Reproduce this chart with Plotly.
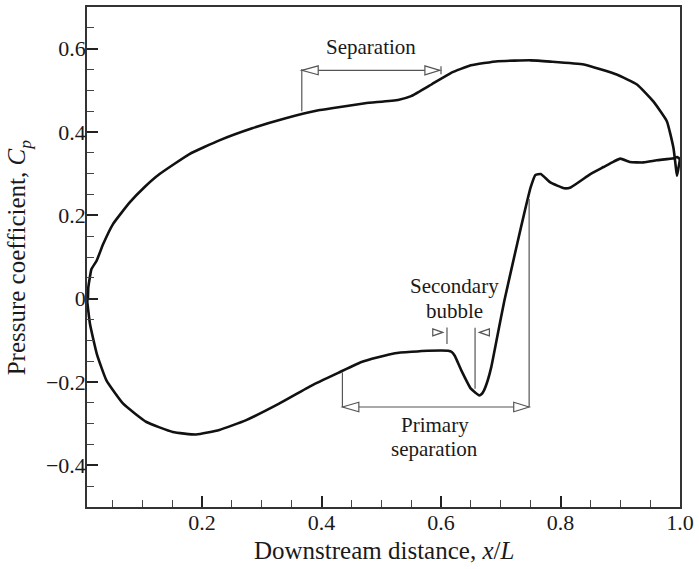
import plotly.graph_objects as go

# ---------------- data ----------------
upper_x = [0.0090, 0.0097, 0.0150, 0.0236, 0.0346, 0.051, 0.079, 0.104, 0.129, 0.179,
           0.229, 0.284, 0.340, 0.395, 0.417, 0.473, 0.528, 0.550, 0.584, 0.617,
           0.650, 0.695, 0.750, 0.783, 0.839, 0.894, 0.928, 0.955, 0.978, 0.989,
           0.9935, 0.995]
upper_y = [0.000, 0.027, 0.071, 0.091, 0.131, 0.179, 0.231, 0.268, 0.299, 0.347,
           0.380, 0.409, 0.433, 0.452, 0.457, 0.469, 0.477, 0.486, 0.514, 0.542,
           0.560, 0.570, 0.572, 0.569, 0.562, 0.538, 0.514, 0.474, 0.426, 0.362,
           0.310, 0.295]

lower_x = [0.997, 0.9995, 0.995, 0.989, 0.961, 0.939, 0.916, 0.900, 0.889, 0.872,
           0.850, 0.817, 0.806, 0.783, 0.767, 0.758, 0.750, 0.739, 0.728, 0.706,
           0.695, 0.684, 0.678, 0.672, 0.668, 0.664, 0.650, 0.634, 0.623, 0.618,
           0.612, 0.578, 0.523, 0.467, 0.428, 0.384, 0.329, 0.273, 0.229, 0.190,
           0.151, 0.107, 0.068, 0.040, 0.024, 0.0125, 0.008, 0.0090]
lower_y = [0.310, 0.335, 0.340, 0.337, 0.332, 0.327, 0.328, 0.336, 0.329, 0.316,
           0.299, 0.267, 0.265, 0.279, 0.299, 0.297, 0.267, 0.203, 0.135, -0.005,
           -0.085, -0.165, -0.197, -0.220, -0.229, -0.232, -0.216, -0.172, -0.137, -0.128,
           -0.125, -0.125, -0.131, -0.152, -0.178, -0.208, -0.252, -0.292, -0.315, -0.326,
           -0.320, -0.296, -0.252, -0.196, -0.133, -0.061, -0.005, 0.000]

x_tickvals = [0.2, 0.4, 0.6, 0.8, 1.0]
x_ticktext = ["0.2", "0.4", "0.6", "0.8", "1.0"]
y_tickvals = [-0.4, -0.2, 0, 0.2, 0.4, 0.6]
y_ticktext = ["\u22120.4", "\u22120.2", "0", "0.2", "0.4", "0.6"]

# ---------------- layout geometry ----------------
W, H = 699, 569
ML, MR, MT, MB = 87, 16, 5, 62
XR = [0.0075, 1.0]
YR = [-0.5, 0.7]
PW, PH = W - ML - MR, H - MT - MB
DX = (XR[1] - XR[0]) / PW   # data units per px
DY = (YR[1] - YR[0]) / PH

FONT = "Liberation Serif, Times New Roman, serif"
INK = "#1a1a1a"
GUIDE = "#555555"

fig = go.Figure()
fig.add_trace(go.Scatter(x=upper_x + lower_x, y=upper_y + lower_y, mode="lines",
                         line=dict(color="#111111", width=2.6, shape="spline", smoothing=0.4),
                         hoverinfo="skip", showlegend=False))

shapes = []


def vline(x, y0, y1):
    shapes.append(dict(type="line", xref="x", yref="y", x0=x, x1=x, y0=y0, y1=y1,
                       line=dict(color=GUIDE, width=1.2)))


def hline(x0, x1, y):
    shapes.append(dict(type="line", xref="x", yref="y", x0=x0, x1=x1, y0=y, y1=y,
                       line=dict(color=GUIDE, width=1.2)))


def tri(xtip, y, direction, length_px, half_px):
    # direction: -1 points left, +1 points right
    xb = xtip - direction * length_px * DX
    path = "M {:.5f},{:.5f} L {:.5f},{:.5f} L {:.5f},{:.5f} Z".format(
        xtip, y, xb, y + half_px * DY, xb, y - half_px * DY)
    shapes.append(dict(type="path", xref="x", yref="y", path=path,
                       fillcolor="white", line=dict(color=GUIDE, width=1.2)))


# Separation (upper surface)
ys = 0.548
vline(0.367, 0.450, ys + 1 * DY)
hline(0.367, 0.598, ys)
vline(0.600, ys - 4 * DY, ys + 4 * DY)
tri(0.367, ys, -1, 16.5, 4.5)
tri(0.598, ys, +1, 15, 4.5)

# Primary separation (lower surface)
yp = -0.260
vline(0.435, -0.177, yp)
vline(0.7475, 0.239, yp)
hline(0.435, 0.7475, yp)
tri(0.435, yp, -1, 16.5, 4.8)
tri(0.7475, yp, +1, 15.5, 4.8)

# Secondary bubble
yb = -0.081
vline(0.610, -0.069, -0.1085)
vline(0.657, -0.070, -0.216)
tri(0.610 - 4.3 * DX, yb, +1, 10, 3.5)
tri(0.657 + 4.4 * DX, yb, -1, 10, 3.5)

annotations = []


def label(text, x, y, size=21):
    annotations.append(dict(text=text, x=x, y=y, xref="x", yref="y", showarrow=False,
                            xanchor="center", yanchor="middle",
                            font=dict(family=FONT, size=size, color=INK)))


label("Separation", 0.4825, 0.604)
label("Secondary", 0.6226, 0.030)
label("bubble", 0.6226, -0.030)
label("Primary", 0.5894, -0.303)
label("separation", 0.5894, -0.360)

annotations.append(dict(text="Downstream distance, <i>x</i>/<i>L</i>",
                        x=(386 - ML) / PW, y=-(551 - MT - PH) / PH,
                        xref="paper", yref="paper", showarrow=False,
                        xanchor="center", yanchor="middle",
                        font=dict(family=FONT, size=25, color=INK)))
annotations.append(dict(text="Pressure coefficient, <i>C<sub>p</sub></i>",
                        x=-(ML - 18) / PW, y=(H - MB - 256) / PH,
                        xref="paper", yref="paper", showarrow=False, textangle=-90,
                        xanchor="center", yanchor="middle",
                        font=dict(family=FONT, size=25, color=INK)))

axis_common = dict(showgrid=False, zeroline=False, showline=True, mirror=True,
                   linecolor="#333333", linewidth=1.5, ticks="inside", ticklen=11,
                   tickwidth=2, tickcolor="#222222",
                   tickfont=dict(family=FONT, size=22, color=INK))

fig.update_layout(
    width=W, height=H,
    margin=dict(l=ML, r=MR, t=MT, b=MB, pad=0),
    paper_bgcolor="white", plot_bgcolor="white",
    xaxis=dict(range=XR, tickmode="array", tickvals=x_tickvals, ticktext=x_ticktext,
               minor=dict(ticks="inside", ticklen=7, tickwidth=1.2, tickcolor="#444444",
                          dtick=0.05, tick0=0),
               ticklabelstandoff=-5, **axis_common),
    yaxis=dict(range=YR, tickmode="array", tickvals=y_tickvals, ticktext=y_ticktext,
               minor=dict(ticks="inside", ticklen=7, tickwidth=1.2, tickcolor="#444444",
                          dtick=0.05, tick0=0),
               ticklabelstandoff=-5, **axis_common),
    shapes=shapes, annotations=annotations,
    showlegend=False,
)

fig.write_html("out.html", config={"displayModeBar": False},
               post_script="document.body.style.margin='0';document.body.style.overflow='hidden';")
